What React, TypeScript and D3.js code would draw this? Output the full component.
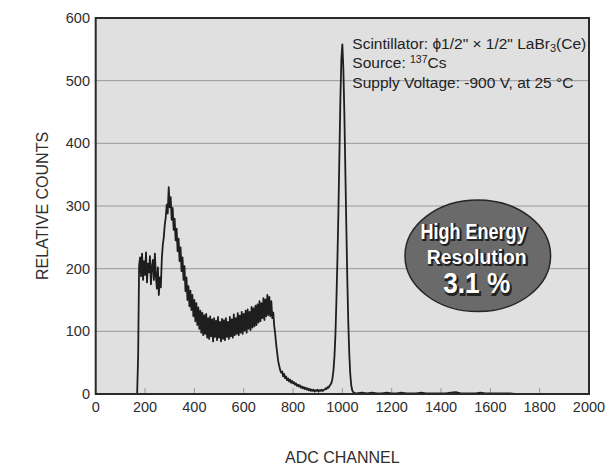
import React, { useEffect, useRef } from 'react';
import * as d3 from 'd3';

// spectrum: counts every 4 channels starting at channel 160
const spectrumStart = 160;
const spectrumStep = 4;
const spectrumCounts = [
  0, 0, 0, 60, 205, 218, 188, 224, 182, 212, 190, 226, 178, 208, 194, 220, 175, 203, 214, 182,
  224, 188, 168, 202, 158, 186, 170, 215, 238, 250, 270, 282, 302, 288, 330, 298, 314, 278, 297, 262,
  280, 245, 264, 228, 248, 212, 234, 196, 218, 182, 204, 164, 186, 150, 172, 140, 165, 134, 158, 124,
  150, 116, 145, 110, 138, 104, 133, 98, 130, 94, 126, 96, 128, 90, 121, 88, 124, 92, 119, 84,
  121, 91, 117, 86, 123, 90, 115, 84, 120, 88, 118, 86, 121, 91, 115, 88, 123, 92, 119, 90,
  127, 94, 121, 96, 129, 94, 125, 98, 131, 96, 128, 101, 133, 98, 135, 104, 131, 102, 139, 106,
  137, 108, 141, 110, 143, 114, 148, 116, 145, 121, 153, 118, 151, 124, 158, 126, 155, 124, 148, 121,
  130, 108, 95, 78, 65, 52, 45, 38, 34, 36, 28, 32, 25, 28, 22, 25, 20, 23, 18, 21,
  17, 19, 15, 17, 13, 15, 12, 14, 10, 12, 9, 11, 8, 10, 7, 9, 6, 8, 5, 7,
  5, 7, 4, 6, 5, 7, 4, 6, 5, 7, 5, 6, 7, 9, 8, 11, 10, 13, 15, 18,
  25, 38, 60, 95, 150, 215, 290, 380, 470, 535, 558, 520, 450, 360, 270, 185, 115, 65, 32, 14,
  6, 3, 2, 1, 1
];

const tailChannels = [1080, 1100, 1120, 1140, 1160, 1180, 1200, 1220, 1240, 1260, 1280, 1300, 1320, 1340, 1360, 1380, 1400, 1420, 1440, 1460, 1480, 1500, 1520, 1540, 1560, 1580, 1600, 1620, 1640, 1660, 1680, 1700, 2000];
const tailCounts = [2, 1, 2, 1, 1, 2, 1, 1, 2, 1, 1, 1, 2, 1, 1, 1, 1, 1, 2, 3, 1, 1, 1, 1, 2, 1, 1, 1, 1, 1, 1, 0, 0];

const xTicks = [0, 200, 400, 600, 800, 1000, 1200, 1400, 1600, 1800, 2000];
const yTicks = [0, 100, 200, 300, 400, 500, 600];
const gridValues = [100, 200, 300, 400, 500];

const FONT = '"Liberation Sans", Arial, Helvetica, sans-serif';

export default function App() {
  const svgRef = useRef<SVGSVGElement>(null);

  useEffect(() => {
    const width = 607, height = 466;
    const left = 95.7, right = 589, top = 18, bottom = 394;

    const svg = d3.select(svgRef.current).attr('width', width).attr('height', height);
    svg.selectAll('*').remove();

    const x = d3.scaleLinear().domain([0, 2000]).range([left, right]);
    const y = d3.scaleLinear().domain([0, 600]).range([bottom, top]);

    svg.append('rect').attr('width', width).attr('height', height).attr('fill', '#fff');
    svg.append('rect').attr('x', left).attr('y', top).attr('width', right - left).attr('height', bottom - top).attr('fill', '#e0e0e0');

    // horizontal grid
    svg.append('g').selectAll('line').data(gridValues).enter().append('line')
      .attr('x1', left).attr('x2', right).attr('y1', d => y(d)).attr('y2', d => y(d))
      .attr('stroke', '#999').attr('stroke-width', 1);

    // small inner ticks on the x axis
    svg.append('g').selectAll('line').data(xTicks).enter().append('line')
      .attr('x1', d => x(d)).attr('x2', d => x(d)).attr('y1', bottom - 6).attr('y2', bottom)
      .attr('stroke', '#999').attr('stroke-width', 1);

    const points: [number, number][] = spectrumCounts.map((c, i) => [spectrumStart + i * spectrumStep, c]);
    tailChannels.forEach((ch, i) => points.push([ch, tailCounts[i]]));

    const line = d3.line<[number, number]>().x(d => x(d[0])).y(d => y(d[1]));
    svg.append('path').datum(points).attr('d', line).attr('fill', 'none')
      .attr('stroke', '#1e1e1e').attr('stroke-width', 1.8).attr('stroke-linejoin', 'round');

    // frame
    svg.append('rect').attr('x', left).attr('y', top).attr('width', right - left).attr('height', bottom - top)
      .attr('fill', 'none').attr('stroke', '#2a2a2a').attr('stroke-width', 2);

    // tick labels
    svg.append('g').selectAll('text').data(xTicks).enter().append('text')
      .attr('x', d => x(d)).attr('y', 412).attr('text-anchor', 'middle')
      .style('font-family', FONT).style('font-size', '14.5px').style('fill', '#2e2e2e').text(d => d);
    svg.append('g').selectAll('text').data(yTicks).enter().append('text')
      .attr('x', 90).attr('y', d => y(d) + 5).attr('text-anchor', 'end')
      .style('font-family', FONT).style('font-size', '14.5px').style('fill', '#2e2e2e').text(d => d);

    // axis titles
    svg.append('text').attr('transform', `translate(42,${(top + bottom) / 2}) rotate(-90)`)
      .attr('text-anchor', 'middle').attr('dy', '0.35em')
      .style('font-family', FONT).style('font-size', '16px').style('fill', '#2e2e2e').text('RELATIVE COUNTS');
    svg.append('text').attr('x', (left + right) / 2).attr('y', 463).attr('text-anchor', 'middle')
      .style('font-family', FONT).style('font-size', '16px').style('fill', '#2e2e2e').text('ADC CHANNEL');

    // annotation
    const note = svg.append('g').style('font-family', FONT).style('font-size', '15.5px').style('fill', '#222');
    const l1 = note.append('text').attr('x', 352.3).attr('y', 49);
    l1.append('tspan').text('Scintillator: \u03D51/2" \u00D7 1/2" LaBr');
    l1.append('tspan').attr('dy', 3).style('font-size', '11px').text('3');
    l1.append('tspan').attr('dy', -3).text('(Ce)');
    const l2 = note.append('text').attr('x', 352.3).attr('y', 68);
    l2.append('tspan').text('Source: ');
    l2.append('tspan').attr('dy', -5).style('font-size', '10.5px').text('137');
    l2.append('tspan').attr('dy', 5).text('Cs');
    note.append('text').attr('x', 352.3).attr('y', 87.5).text('Supply Voltage: -900 V, at 25 \u00B0C');

    // badge
    const badge = svg.append('g');
    badge.append('ellipse').attr('cx', 477.8).attr('cy', 255.8).attr('rx', 72.8).attr('ry', 55.8)
      .attr('fill', '#6a6a6a').attr('stroke', '#262626').attr('stroke-width', 1.5);
    const badgeLines = [
      { t: 'High Energy', cx: 473.5, base: 238.5, size: 22, w: 106 },
      { t: 'Resolution', cx: 476.7, base: 264, size: 21, w: 100 },
      { t: '3.1 %', cx: 476.7, base: 293.3, size: 30, w: 67 }
    ];
    badgeLines.forEach(b => {
      badge.append('text').attr('x', b.cx + 1.3).attr('y', b.base + 1.3).attr('text-anchor', 'middle')
        .attr('textLength', b.w).attr('lengthAdjust', 'spacingAndGlyphs')
        .style('font-family', FONT).style('font-weight', 'bold').style('font-size', `${b.size}px`)
        .style('fill', '#222').style('stroke', '#222').style('stroke-width', 2).text(b.t);
      badge.append('text').attr('x', b.cx).attr('y', b.base).attr('text-anchor', 'middle')
        .attr('textLength', b.w).attr('lengthAdjust', 'spacingAndGlyphs')
        .style('font-family', FONT).style('font-weight', 'bold').style('font-size', `${b.size}px`)
        .style('fill', '#fff').text(b.t);
    });
  }, []);

  return <svg ref={svgRef} style={{ position: 'absolute', left: 0, top: 0, display: 'block' }}></svg>;
}
